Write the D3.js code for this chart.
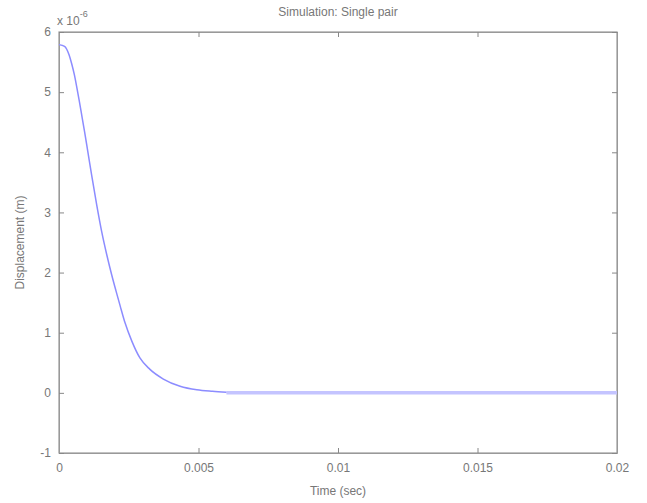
<!DOCTYPE html>
<html>
<head>
<meta charset="utf-8">
<script src="https://cdn.jsdelivr.net/npm/d3@7"></script>
<style>
  body { margin: 0; background: #fff; }
  svg text { font-family: "Liberation Sans", Arial, sans-serif; fill: #777; }
</style>
</head>
<body>
<svg width="647" height="503"></svg>
<script>
// time in seconds, displacement in units of 1e-6 m
var time = [0, 0.0002, 0.00036, 0.00045, 0.00055, 0.00063, 0.00072, 0.00081, 0.00091, 0.00103, 0.00117,
            0.00135, 0.00153, 0.00171, 0.00189, 0.00204, 0.00219, 0.00237, 0.00261, 0.0029, 0.00326,
            0.00374, 0.00434, 0.00494, 0.0055, 0.006];
var disp = [5.79, 5.76, 5.62, 5.48, 5.29, 5.10, 4.87, 4.63, 4.36, 4.02, 3.62,
            3.13, 2.68, 2.30, 1.96, 1.70, 1.45, 1.16, 0.86, 0.58, 0.39,
            0.23, 0.11, 0.05, 0.025, 0.01];
// settled tail of the response
var tailTime = [0.006, 0.02];
var tailDisp = [0, 0];

var xTicks = [0, 0.005, 0.01, 0.015, 0.02];
var xTickLabels = ["0", "0.005", "0.01", "0.015", "0.02"];
var yTicks = [-1, 0, 1, 2, 3, 4, 5, 6];

var svg = d3.select("svg"),
    margin = {top: 32, right: 30, bottom: 50, left: 59},
    width = 647 - margin.left - margin.right,
    height = 503 - margin.top - margin.bottom;

var x = d3.scaleLinear().domain([0, 0.02]).range([0, width]);
var y = d3.scaleLinear().domain([-1, 6]).range([height, 0]);

var g = svg.append("g")
    .attr("transform", "translate(" + margin.left + "," + margin.top + ")");

// frame
g.append("rect")
    .attr("width", width)
    .attr("height", height)
    .attr("fill", "none")
    .attr("stroke", "#999")
    .attr("stroke-width", 1.2);

// axes with inward ticks
var fmt = function(d, i) { return xTickLabels[i]; };
g.append("g")
    .attr("transform", "translate(0," + height + ")")
    .call(d3.axisBottom(x).tickValues(xTicks).tickFormat(fmt).tickSizeInner(-5).tickSizeOuter(0).tickPadding(10));
g.append("g")
    .call(d3.axisTop(x).tickValues(xTicks).tickFormat("").tickSizeInner(-5).tickSizeOuter(0));
g.append("g")
    .call(d3.axisLeft(y).tickValues(yTicks).tickFormat(function(d) { return String(d); }).tickSizeInner(-5).tickSizeOuter(0).tickPadding(8));
g.append("g")
    .attr("transform", "translate(" + width + ",0)")
    .call(d3.axisRight(y).tickValues(yTicks).tickFormat("").tickSizeInner(-5).tickSizeOuter(0));

g.selectAll(".domain").attr("stroke", "#999");
g.selectAll(".tick line").attr("stroke", "#888");
g.selectAll(".tick text").attr("font-size", 12).style("fill", "#777");

// curve
var pts = time.map(function(t, i) { return [t, disp[i]]; });
var line = d3.line()
    .curve(d3.curveMonotoneX)
    .x(function(d) { return x(d[0]); })
    .y(function(d) { return y(d[1]); });

g.append("path")
    .datum(tailTime.map(function(t, i) { return [t, tailDisp[i]]; }))
    .attr("fill", "none")
    .attr("stroke", "#c4c4ff")
    .attr("stroke-width", 3.5)
    .attr("d", line);

g.append("path")
    .datum(pts)
    .attr("fill", "none")
    .attr("stroke", "#8c8cff")
    .attr("stroke-width", 1.5)
    .attr("d", line);

// labels
svg.append("text")
    .attr("x", margin.left + width / 2)
    .attr("y", 16)
    .attr("text-anchor", "middle")
    .attr("font-size", 12)
    .text("Simulation: Single pair");

svg.append("text")
    .attr("x", margin.left + width / 2)
    .attr("y", 495)
    .attr("text-anchor", "middle")
    .attr("font-size", 12)
    .text("Time (sec)");

svg.append("text")
    .attr("transform", "translate(24," + (margin.top + height / 2) + ") rotate(-90)")
    .attr("text-anchor", "middle")
    .attr("font-size", 12)
    .text("Displacement (m)");

var exp = svg.append("text")
    .attr("x", 57)
    .attr("y", 25)
    .attr("font-size", 12);
exp.append("tspan").text("x 10");
exp.append("tspan").attr("dy", -8).attr("font-size", 9).text("-6");
</script>
</body>
</html>
